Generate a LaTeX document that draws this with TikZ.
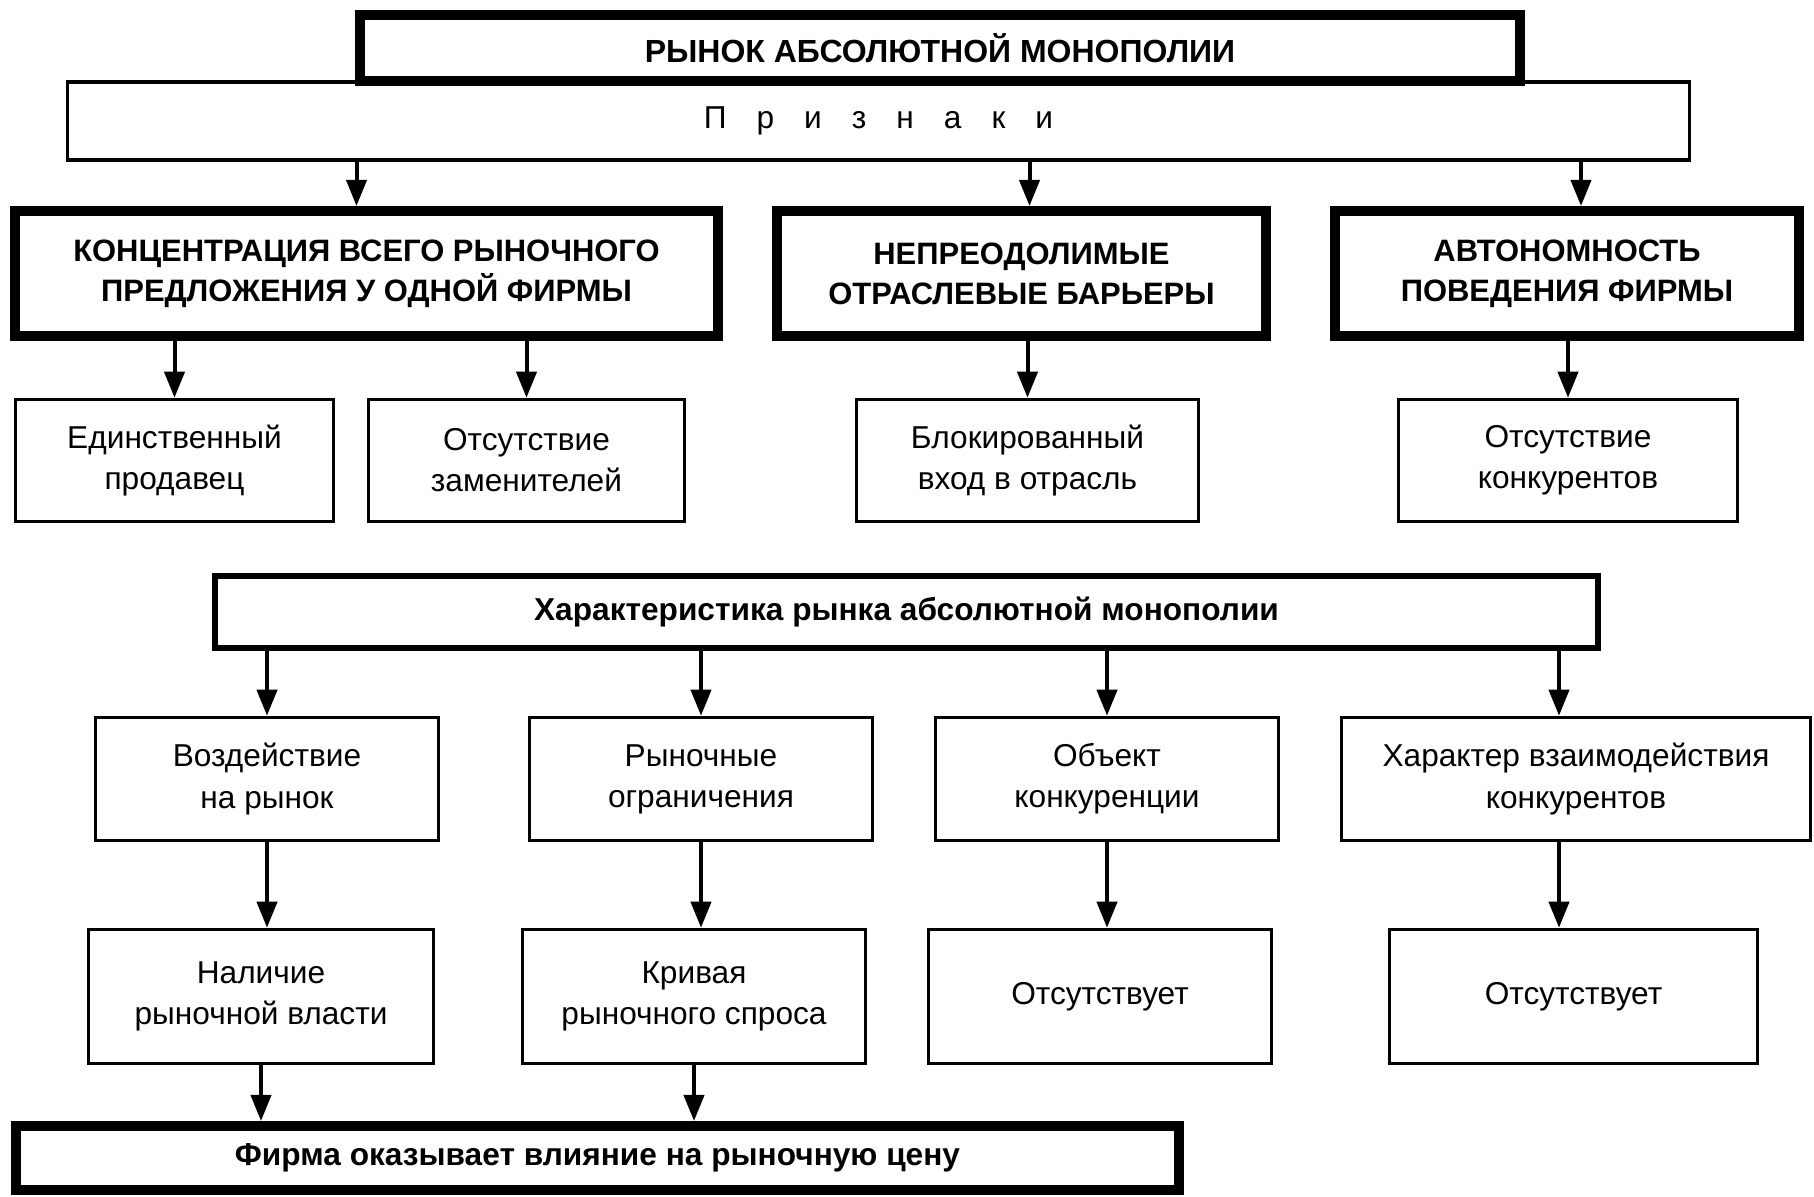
\documentclass[tikz,border=0pt]{standalone}
\usepackage{fontspec}
\setmainfont{Liberation Sans}
\usetikzlibrary{arrows.meta,calc}

\begin{document}
\begin{tikzpicture}[x=0.01cm, y=-0.01cm,
    thin box/.style = {draw, line width=0.035cm, align=center, inner sep=0pt,
      font=\fontsize{9}{11.7}\selectfont},
    thick box/.style = {draw, line width=0.1cm, fill=white, align=center, inner sep=0pt,
      font=\bfseries\fontsize{8.8}{11.4}\selectfont},
    arr/.style = {line width=0.04cm, -{Triangle[length=0.26cm, width=0.2cm]}}]

  \useasboundingbox (0,0) rectangle (1814,1196);

  % top
  \node[thin box, minimum width=16.21cm, minimum height=0.78cm] (signs) at (878.5,121)
    {П\hspace{3mm}р\hspace{3mm}и\hspace{3mm}з\hspace{3mm}н\hspace{3mm}а\hspace{3mm}к\hspace{3mm}и};
  \node[thick box, font=\bfseries\fontsize{9.1}{11}\selectfont,
    minimum width=11.6cm, minimum height=0.66cm] (title) at (940,48) {РЫНОК АБСОЛЮТНОЙ МОНОПОЛИИ};

  \node[thick box, minimum width=7.03cm, minimum height=1.25cm] (conc) at (366.5,273.5)
    {КОНЦЕНТРАЦИЯ ВСЕГО РЫНОЧНОГО\\ПРЕДЛОЖЕНИЯ У ОДНОЙ ФИРМЫ};
  \node[thick box, minimum width=4.89cm, minimum height=1.25cm] (barr) at (1021.5,273.5)
    {НЕПРЕОДОЛИМЫЕ\\ОТРАСЛЕВЫЕ БАРЬЕРЫ};
  \node[thick box, minimum width=4.64cm, minimum height=1.25cm] (auton) at (1567,273.5)
    {АВТОНОМНОСТЬ\\ПОВЕДЕНИЯ ФИРМЫ};

  \node[thin box, minimum width=3.18cm, minimum height=1.22cm] (seller) at (174.5,460.5) {Единственный\\продавец};
  \node[thin box, minimum width=3.16cm, minimum height=1.22cm] (subst) at (526.5,460.5) {Отсутствие\\заменителей};
  \node[thin box, minimum width=3.42cm, minimum height=1.22cm] (entry) at (1027.5,460.5) {Блокированный\\вход в отрасль};
  \node[thin box, minimum width=3.39cm, minimum height=1.22cm] (rivals) at (1568,460.5) {Отсутствие\\конкурентов};

  % characteristics
  \node[thick box, line width=0.06cm, font=\bfseries\fontsize{9}{11}\selectfont,
    minimum width=13.83cm, minimum height=0.72cm] (charact) at (906.5,612) {Характеристика рынка абсолютной монополии};

  \node[thin box, minimum width=3.43cm, minimum height=1.23cm] (impact) at (267,779) {Воздействие\\на рынок};
  \node[thin box, minimum width=3.43cm, minimum height=1.23cm] (limits) at (701,779) {Рыночные\\ограничения};
  \node[thin box, minimum width=3.43cm, minimum height=1.23cm] (object) at (1107,779) {Объект\\конкуренции};
  \node[thin box, minimum width=4.69cm, minimum height=1.23cm] (interact) at (1576,779) {Характер взаимодействия\\конкурентов};

  \node[thin box, minimum width=3.45cm, minimum height=1.34cm] (power) at (261,996.5) {Наличие\\рыночной власти};
  \node[thin box, minimum width=3.43cm, minimum height=1.34cm] (curve) at (694,996.5) {Кривая\\рыночного спроса};
  \node[thin box, minimum width=3.43cm, minimum height=1.34cm] (none1) at (1100,996.5) {Отсутствует};
  \node[thin box, minimum width=3.68cm, minimum height=1.34cm] (none2) at (1573.5,996.5) {Отсутствует};

  \node[thick box, font=\bfseries\fontsize{9}{11}\selectfont,
    minimum width=11.63cm, minimum height=0.64cm] (firm) at (597.5,1158) {Фирма оказывает влияние на рыночную цену};

  % arrows
  \foreach \b/\dx in {conc/-10, barr/8, auton/14}
    \draw[arr] ($(signs.south -| \b.north)+(\dx,0)$) -- ($(\b.north)+(\dx,0)$);
  \foreach \a/\b in {conc/seller, conc/subst, barr/entry, auton/rivals}
    \draw[arr] (\a.south -| \b.north) -- (\b.north);

  \foreach \b in {impact, limits, object}
    \draw[arr] (charact.south -| \b.north) -- (\b.north);
  \draw[arr] ($(charact.south -| interact.north)+(-17,0)$) -- ($(interact.north)+(-17,0)$);

  \draw[arr] (impact.south) -- (impact.south |- power.north);
  \draw[arr] (limits.south) -- (limits.south |- curve.north);
  \draw[arr] (object.south) -- (object.south |- none1.north);
  \draw[arr] ($(interact.south)+(-17,0)$) -- ($(interact.south |- none2.north)+(-17,0)$);

  \draw[arr] (power.south) -- (power.south |- firm.north);
  \draw[arr] (curve.south) -- (curve.south |- firm.north);
\end{tikzpicture}
\end{document}
